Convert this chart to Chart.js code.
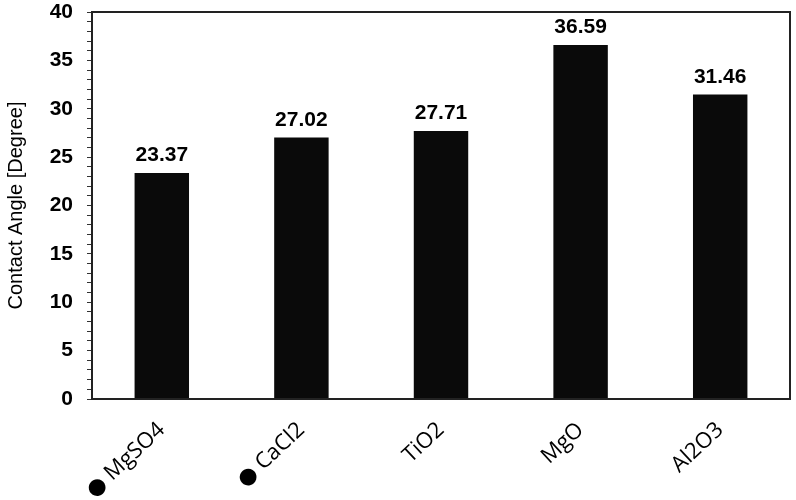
<!DOCTYPE html>
<html>
<head>
<meta charset="utf-8">
<script src="https://cdn.jsdelivr.net/npm/chart.js@4/dist/chart.umd.min.js"></script>
<style>
html,body{margin:0;padding:0;background:#fff;}
#wrap{width:796px;height:500px;position:relative;}
</style>
</head>
<body>
<div id="wrap"><canvas id="c" width="796" height="500"></canvas></div>
<script>
const categories = ["● MgSO4", "● CaCl2", "TiO2", "MgO", "Al2O3"];
const contactAngle = [23.37, 27.02, 27.71, 36.59, 31.46];
const valueLabels = ["23.37", "27.02", "27.71", "36.59", "31.46"];
const yMin = 0, yMax = 40, yMajorStep = 5, yMinorStep = 1;

const frame = {
  id: 'frame',
  afterDatasetsDraw(chart) {
    const {ctx, chartArea: a} = chart;
    ctx.save();
    ctx.strokeStyle = '#222';
    ctx.lineWidth = 2;
    ctx.strokeRect(a.left, a.top, a.right - a.left, a.bottom - a.top);
    ctx.restore();
  }
};
const valueText = {
  id: 'valueText',
  afterDatasetsDraw(chart) {
    const {ctx} = chart;
    const meta = chart.getDatasetMeta(0);
    ctx.save();
    ctx.font = 'bold 21px "Liberation Sans", Arial, sans-serif';
    ctx.fillStyle = '#000';
    ctx.textAlign = 'center';
    ctx.textBaseline = 'alphabetic';
    meta.data.forEach((bar, i) => {
      ctx.fillText(valueLabels[i], bar.x, bar.y - 12);
    });
    ctx.restore();
  }
};

new Chart(document.getElementById('c'), {
  type: 'bar',
  data: {
    labels: categories,
    datasets: [{
      data: contactAngle,
      backgroundColor: '#0a0a0a',
      borderWidth: 0,
      categoryPercentage: 1,
      barPercentage: 0.39
    }]
  },
  options: {
    responsive: false,
    animation: false,
    devicePixelRatio: 1,
    layout: {padding: {top: 12, right: 6, left: 0, bottom: 0}},
    plugins: {legend: {display: false}, tooltip: {enabled: false}},
    scales: {
      x: {
        grid: {display: false, drawTicks: false},
        border: {display: false},
        ticks: {
          minRotation: 43, maxRotation: 43,
          color: '#000',
          padding: 18,
          font: {family: '"Open Sans", "DejaVu Sans", sans-serif', size: 22}
        },
        afterFit(s) { s.height = 101; s.paddingLeft = 0; s.paddingRight = 0; }
      },
      y: {
        min: yMin, max: yMax,
        grid: {drawOnChartArea: false, tickLength: 5, color: '#333', tickWidth: 1},
        border: {display: false},
        ticks: {
          stepSize: yMinorStep,
          autoSkip: false,
          color: '#000',
          padding: 14,
          font: {family: '"Liberation Sans", Arial, sans-serif', size: 21, weight: 'bold'},
          callback: (v) => (v % yMajorStep === 0 ? String(v) : '')
        },
        title: {
          display: true,
          text: 'Contact Angle [Degree]',
          color: '#000',
          padding: {top: 4, bottom: 0},
          font: {family: '"Liberation Sans", Arial, sans-serif', size: 20}
        },
        afterFit(s) { s.width = 92; s.paddingTop = 0; s.paddingBottom = 0; }
      }
    }
  },
  plugins: [frame, valueText]
});
</script>
</body>
</html>
